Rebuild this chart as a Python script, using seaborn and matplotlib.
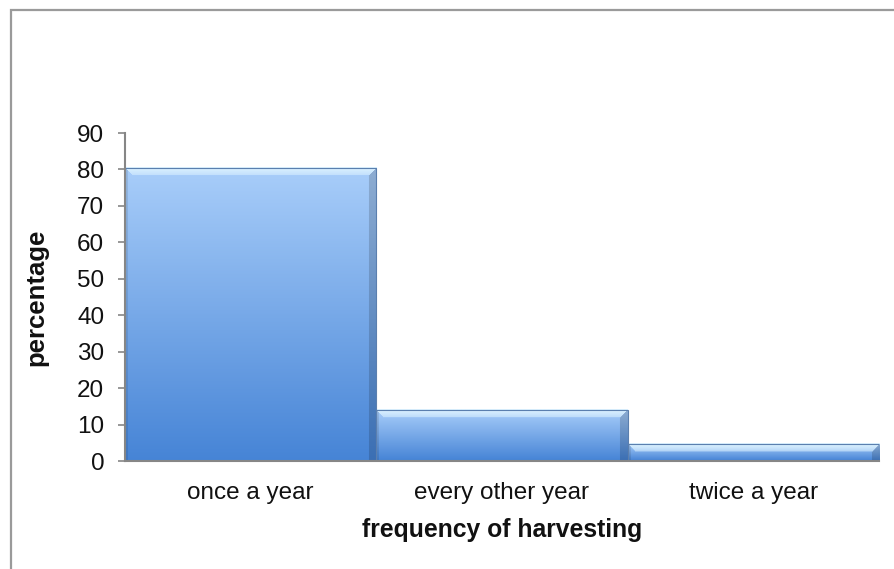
import numpy as np
import pandas as pd
import matplotlib
matplotlib.use("Agg")
import matplotlib.pyplot as plt
import seaborn as sns
from matplotlib.colors import to_rgb
from matplotlib.patches import Rectangle

categories = ["once a year", "every other year", "twice a year"]
percentages = [80.4, 14.0, 4.7]
y_ticks = [0, 10, 20, 30, 40, 50, 60, 70, 80, 90]
x_title = "frequency of harvesting"
y_title = "percentage"

sns.set_theme(style="white")
plt.rcParams["font.family"] = ["Liberation Sans", "DejaVu Sans"]

W_PX, H_PX = 894, 569
fig = plt.figure(figsize=(W_PX / 100, H_PX / 100), dpi=100)
ax_l, ax_r, ax_t, ax_b = 125, 879, 133, 461
ax = fig.add_axes([ax_l / W_PX, (H_PX - ax_b) / H_PX, (ax_r - ax_l) / W_PX, (ax_b - ax_t) / H_PX])

df = pd.DataFrame({"freq": categories, "pct": percentages})
sns.barplot(data=df, x="freq", y="pct", width=1.0, color="#6fa3ea",
            edgecolor="#5b7fae", linewidth=0.8, ax=ax, zorder=2)

ax.set_xlim(-0.5, len(categories) - 0.5)
ax.set_ylim(0, 90)
ax.set_yticks(y_ticks)

# gradient + bevel fill for each bar
fig.canvas.draw()
renderer = fig.canvas.get_renderer()
top_c = np.array(to_rgb("#a9cefa"))
bot_c = np.array(to_rgb("#4684d6"))
light = np.array(to_rgb("#dcf2ff"))
for p in list(ax.patches):
    bb = p.get_window_extent(renderer)
    Wp = max(int(round(bb.width)), 2)
    Hp = max(int(round(bb.height)), 2)
    t = np.linspace(0, 1, Hp)[:, None, None]
    img = top_c * (1 - t) + bot_c * t
    img = np.repeat(img, Wp, axis=1)
    yy, xx = np.mgrid[0:Hp, 0:Wp]
    bev = 8
    rx = Wp - 1 - xx
    top_mask = (yy < bev) & (yy <= xx) & (yy <= rx)
    right_mask = (rx < bev) & (rx < yy)
    left_mask = (xx < 3) & (xx < yy)
    tb = (yy / bev)[..., None]
    img = np.where(top_mask[..., None], light * (1 - tb * 0.5) + img * (tb * 0.5), img)
    img = np.where(right_mask[..., None], img * 0.84, img)
    img = np.where(left_mask[..., None], img * 0.9, img)
    x0, y0 = p.get_x(), p.get_y()
    w, h = p.get_width(), p.get_height()
    ax.imshow(np.clip(img, 0, 1), extent=[x0, x0 + w, y0, y0 + h], aspect="auto",
              origin="upper", interpolation="bilinear", zorder=1.5)
    p.set_facecolor("none")

ax.set_xlim(-0.5, len(categories) - 0.5)
ax.set_ylim(0, 90)

for s in ["top", "right"]:
    ax.spines[s].set_visible(False)
for s in ["left", "bottom"]:
    ax.spines[s].set_color("#868686")
    ax.spines[s].set_linewidth(1.5)
    ax.spines[s].set_zorder(3)

ax.tick_params(axis="y", which="major", left=True, length=5, width=1.2, color="#868686",
               pad=10, labelsize=17.5, labelcolor="#111111")
ax.tick_params(axis="x", which="major", bottom=False, length=0, pad=15,
               labelsize=17.5, labelcolor="#111111")

ax.set_xlabel(x_title, fontsize=17.8, fontweight="bold", color="#111111")
ax.set_ylabel(y_title, fontsize=18.5, fontweight="bold", color="#111111")
ax.xaxis.set_label_coords(0.5, -(518 - ax_b) / (ax_b - ax_t))
ax.yaxis.set_label_coords((48 - ax_l) / (ax_r - ax_l), 0.5)

fig.patches.append(Rectangle((11 / W_PX, -0.1), 1.2, (H_PX - 10) / H_PX + 0.1,
                             transform=fig.transFigure, fill=False,
                             edgecolor="#9a9a9a", linewidth=1.6, zorder=0))

fig.savefig("out.png", dpi=100)
